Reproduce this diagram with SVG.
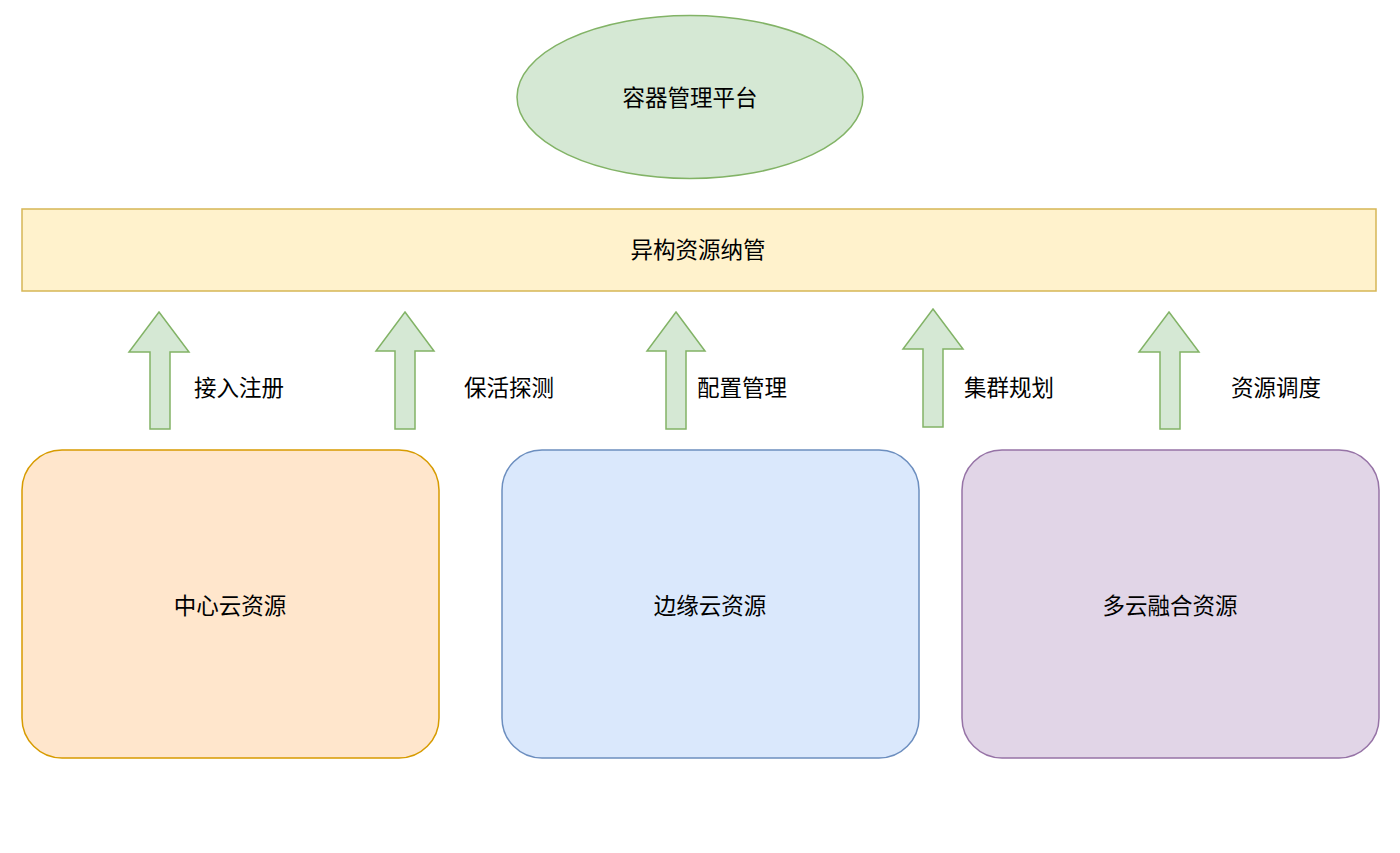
<svg xmlns="http://www.w3.org/2000/svg" width="1400" height="853" viewBox="0 0 1400 853">
<style>
text{font-family:"Liberation Sans","Noto Sans CJK SC",sans-serif;font-size:22.5px;fill:#000;dominant-baseline:central}
.c{text-anchor:middle}
.arrow{fill:#d5e8d4;stroke:#82b366;stroke-width:1.5}
</style>
<rect width="1400" height="853" fill="#ffffff"/>
<g id="platform">
<ellipse cx="690" cy="97" rx="173" ry="81.5" fill="#d5e8d4" stroke="#82b366" stroke-width="1.5"/>
<text class="c" x="690" y="98">容器管理平台</text>
</g>
<g id="hetero">
<rect x="22" y="209" width="1354" height="82" fill="#fff2cc" stroke="#d6b656" stroke-width="1.5"/>
<text class="c" x="698" y="250">异构资源纳管</text>
</g>
<g id="center">
<rect x="22" y="450" width="417" height="308" rx="40" fill="#ffe6cc" stroke="#d79b00" stroke-width="1.5"/>
<text class="c" x="230" y="606">中心云资源</text>
</g>
<g id="edge">
<rect x="502" y="450" width="417" height="308" rx="40" fill="#dae8fc" stroke="#6c8ebf" stroke-width="1.5"/>
<text class="c" x="710" y="606">边缘云资源</text>
</g>
<g id="multi">
<rect x="962" y="450" width="417" height="308" rx="40" fill="#e1d5e7" stroke="#9673a6" stroke-width="1.5"/>
<text class="c" x="1170" y="606">多云融合资源</text>
</g>
<g id="connectors">
<polygon class="arrow" points="159,312 189,352 170,352 170,429 150,429 150,352 129,352"/>
<polygon class="arrow" points="405,312 434,351 415,351 415,429 395,429 395,351 376,351"/>
<polygon class="arrow" points="676,312 705,351 686,351 686,429 666,429 666,351 647,351"/>
<polygon class="arrow" points="933,309 963,349 943,349 943,427 923,427 923,349 903,349"/>
<polygon class="arrow" points="1169,312 1199,352 1180,352 1180,429 1160,429 1160,352 1139,352"/>
<text x="194" y="388">接入注册</text>
<text x="464" y="388">保活探测</text>
<text x="697" y="388">配置管理</text>
<text x="964" y="388">集群规划</text>
<text x="1231" y="388">资源调度</text>
</g>
</svg>
